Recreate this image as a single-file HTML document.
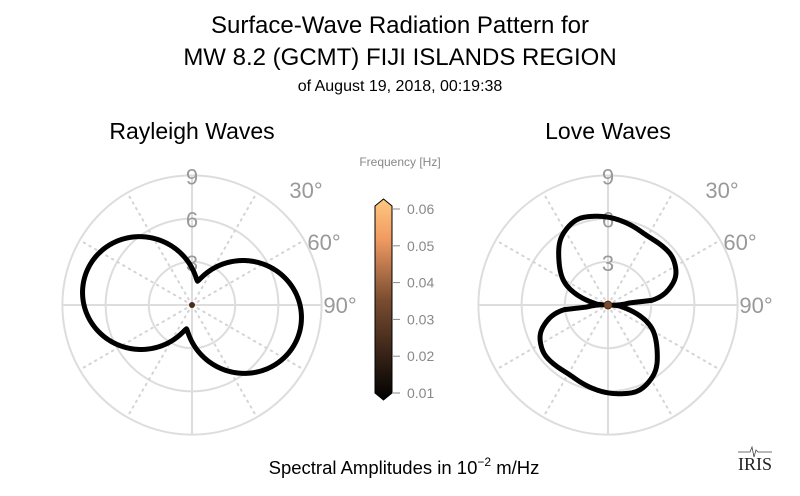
<!DOCTYPE html>
<html><head><meta charset="utf-8"><style>
html,body{margin:0;padding:0;background:#fff;}
svg{display:block;font-family:"Liberation Sans",sans-serif;}
</style></head><body>
<svg id="s" width="800" height="496" viewBox="0 0 800 496" xmlns="http://www.w3.org/2000/svg">
<defs><linearGradient id="cu" x1="0" y1="1" x2="0" y2="0">
<stop offset="0" stop-color="#000"/><stop offset="0.5" stop-color="#7a4d31"/><stop offset="0.8" stop-color="#f09a62"/><stop offset="1" stop-color="#ffc880"/></linearGradient></defs>
<text x="400" y="33" font-size="24" text-anchor="middle" fill="#000">Surface-Wave Radiation Pattern for</text>
<text x="400" y="65" font-size="24" text-anchor="middle" fill="#000">MW 8.2 (GCMT) FIJI ISLANDS REGION</text>
<text x="400" y="91" font-size="16" text-anchor="middle" fill="#000">of August 19, 2018, 00:19:38</text>
<text x="192" y="139" font-size="23" text-anchor="middle">Rayleigh Waves</text>
<text x="608" y="139" font-size="23" text-anchor="middle">Love Waves</text>
<g id="g1"></g><g id="g2"></g>
<text x="400" y="166" font-size="12" text-anchor="middle" fill="#888">Frequency [Hz]</text>
<path d="M375,206 L383.5,199 L392,206 L392,393 L383.5,400 L375,393 Z" fill="url(#cu)" stroke="#000" stroke-width="1"/>
<g font-size="14" fill="#888" stroke="#888">
<line x1="392" y1="209" x2="400" y2="209"/><text x="407" y="214" stroke="none">0.06</text>
<line x1="392" y1="245.8" x2="400" y2="245.8"/><text x="407" y="250.8" stroke="none">0.05</text>
<line x1="392" y1="282.6" x2="400" y2="282.6"/><text x="407" y="287.6" stroke="none">0.04</text>
<line x1="392" y1="319.4" x2="400" y2="319.4"/><text x="407" y="324.4" stroke="none">0.03</text>
<line x1="392" y1="356.2" x2="400" y2="356.2"/><text x="407" y="361.2" stroke="none">0.02</text>
<line x1="392" y1="393" x2="400" y2="393"/><text x="407" y="398" stroke="none">0.01</text>
</g>
<text x="404" y="474" font-size="18.5" text-anchor="middle">Spectral Amplitudes in 10<tspan dy="-8" font-size="12">−2</tspan><tspan dy="8"> m/Hz</tspan></text>
<g transform="translate(750,460)">
<path d="M-12,-8 L0,-8 L2,-13 L4,-3 L6,-10 L8,-8 L22,-8" fill="none" stroke="#444" stroke-width="0.8"/>
<text x="5" y="10" font-family="Liberation Serif,serif" font-size="18" text-anchor="middle" fill="#222">IRIS</text>
</g>
</svg>
<script>
var NS="http://www.w3.org/2000/svg";
function el(g,t,a){var e=document.createElementNS(NS,t);for(var k in a)e.setAttribute(k,a[k]);g.appendChild(e);return e;}
var S=14.4;
function grid(g,cx,cy){
 [3,6,9].forEach(function(r){el(g,"circle",{cx:cx,cy:cy,r:r*S,fill:"none",stroke:"#ddd","stroke-width":2});});
 for(var a=0;a<360;a+=30){var rad=a*Math.PI/180;var solid=a%90==0;
  el(g,"line",{x1:cx,y1:cy,x2:cx+Math.sin(rad)*9*S,y2:cy-Math.cos(rad)*9*S,stroke:solid?"#ddd":"#d4d4d4","stroke-width":2,"stroke-dasharray":solid?"":"1.5 5","stroke-linecap":"round"});}
 var lab=[["9",cx,cy-9*S+9,"middle"],["6",cx,cy-6*S+9,"middle"],["3",cx,cy-3*S+9,"middle"],["30°",cx+114,cy-107,"middle"],["60°",cx+132,cy-55,"middle"],["90°",cx+148,cy+8,"middle"]];
 lab.forEach(function(l){var t=el(g,"text",{x:l[1],y:l[2],"font-size":22,fill:"#999","text-anchor":l[3]});t.textContent=l[0];});
}
function curve(g,cx,cy,f){var d="";for(var i=0;i<=720;i++){var a=i/2*Math.PI/180;var r=f(i/2);var x=cx+Math.sin(a)*r,y=cy-Math.cos(a)*r;d+=(i?"L":"M")+x.toFixed(2)+","+y.toFixed(2);}
 el(g,"path",{d:d+"Z",fill:"none",stroke:"#000","stroke-width":5,"stroke-linejoin":"round"});}
var g1=document.getElementById("g1"),g2=document.getElementById("g2");
grid(g1,192,305);grid(g2,608,305);
curve(g1,192,305,function(t){return (1.7+6.0*Math.pow(Math.abs(Math.cos((t-103)*Math.PI/180)),1.3))*S;});
var tab=[[0,88],[29,79],[53,81],[68,74],[84,50],[92,5],[101,18],[116,48],[134,68],[144,82],[160,92],[180,88]];
function lin(t){t=((t%180)+180)%180;for(var i=0;i<tab.length-1;i++){if(t>=tab[i][0]&&t<=tab[i+1][0]){var u=(t-tab[i][0])/(tab[i+1][0]-tab[i][0]);return tab[i][1]*(1-u)+tab[i+1][1]*u;}}return 88;}
function love(t){var s=0,w=0;for(var k=-8;k<=8;k++){var wt=1-Math.abs(k)/9;s+=lin(t+k)*wt;w+=wt;}var v=s/w;var d=Math.abs((((t-92)%180)+180)%180);d=Math.min(d,180-d);if(d<8)v=Math.min(v,5+d*2.2);return Math.max(4,v);}
curve(g2,608,305,love);
el(g1,"circle",{cx:192,cy:305,r:3,fill:"#4a2a18"});
el(g2,"circle",{cx:608,cy:305,r:4,fill:"#7a4a2a",stroke:"#3a2010","stroke-width":0.8});
</script>
</body></html>
